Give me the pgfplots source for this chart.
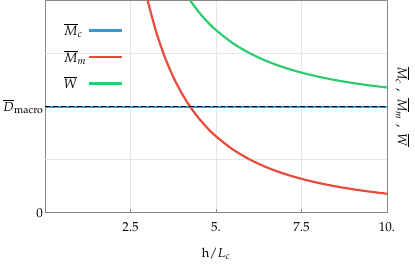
\documentclass[border=0pt]{standalone}
\usepackage{pgfplots}
\pgfplotsset{compat=1.18}
\usepackage{mathpazo}
\definecolor{cblue}{HTML}{3498DB}
\definecolor{cred}{HTML}{E74C3C}
\definecolor{cgreen}{HTML}{2ECC71}
\definecolor{framec}{HTML}{888888}
\definecolor{gridc}{HTML}{E6E6E6}
\begin{document}
\begin{tikzpicture}[font=\fontsize{13}{15}\selectfont]
\begin{axis}[name=ax, scale only axis, width=343pt, height=213pt,
  xmin=0, xmax=10, ymin=0, ymax=2,
  axis line style={framec, line width=0.8pt},
  xtick={2.5,5,7.5,10}, xticklabels={$2.5$,$5.$,$7.5$,$10.$},
  xticklabel style={yshift=-6pt},
  ytick={0,1}, yticklabels={$0$,{$\overline{D}$\raisebox{-2.5pt}{\fontsize{10.5}{13}\selectfont$\mathrm{macro}$}}},
  yticklabel style={xshift=1.5pt},
  extra y ticks={0.5,1.5}, extra y tick labels={},
  extra y tick style={grid=major, major tick length=0pt},
  xmajorgrids, grid style={gridc, line width=0.7pt},
  tick align=inside, major tick length=4pt, tick style={framec, line width=0.8pt},
  tick pos=left,
  xlabel={$\mathrm{h}/L_c$},
  xlabel style={yshift=-10pt},
  ylabel={$\overline{M}_c\ ,\ \overline{M}_m\ ,\ \overline{W}$},
  ylabel style={at={(axis description cs:1.015,0.5)}, anchor=south, rotate=180},
  legend style={at={(axis description cs:0.04,0.91)}, anchor=north west, draw=none, fill=none,
    row sep=9pt, font=\fontsize{13.5}{15}\selectfont, cells={anchor=west}},
  legend plot pos=right,
  legend image code/.code={\draw[#1] (0pt,0pt) -- (33pt,0pt);},
]
\addplot[cblue, line width=2.2pt] coordinates {(0,1) (10,1)};
\addlegendentry{$\overline{M}_c$}
\addplot[cred, line width=2.2pt, smooth] coordinates {
(3.0,2.0) (3.25,1.7041) (3.5,1.4694) (3.75,1.28) (4.0,1.125) (4.25,0.9965)
(4.5,0.8889) (4.75,0.7978) (5.0,0.72) (5.5,0.5950) (6.0,0.5) (6.5,0.4260)
(7.0,0.3673) (7.5,0.32) (8.0,0.28125) (8.5,0.2491) (9.0,0.2222) (9.5,0.1994) (10,0.18)};
\addlegendentry{$\overline{M}_m$}
\addplot[cgreen, line width=2.2pt, smooth] coordinates {
(4.243,2.0) (4.5,1.8889) (4.75,1.7978) (5.0,1.72) (5.5,1.5950) (6.0,1.5) (6.5,1.4260)
(7.0,1.3673) (7.5,1.32) (8.0,1.28125) (8.5,1.2491) (9.0,1.2222) (9.5,1.1994) (10,1.18)};
\addlegendentry{$\overline{W}$}
\addplot[black, line width=1.1pt, dash pattern=on 5pt off 3pt, forget plot] coordinates {(0,1) (10,1)};
\end{axis}
\path ([shift={(-44pt,-51pt)}]ax.south west) rectangle ([shift={(28pt,0pt)}]ax.north east);
\end{tikzpicture}
\end{document}
